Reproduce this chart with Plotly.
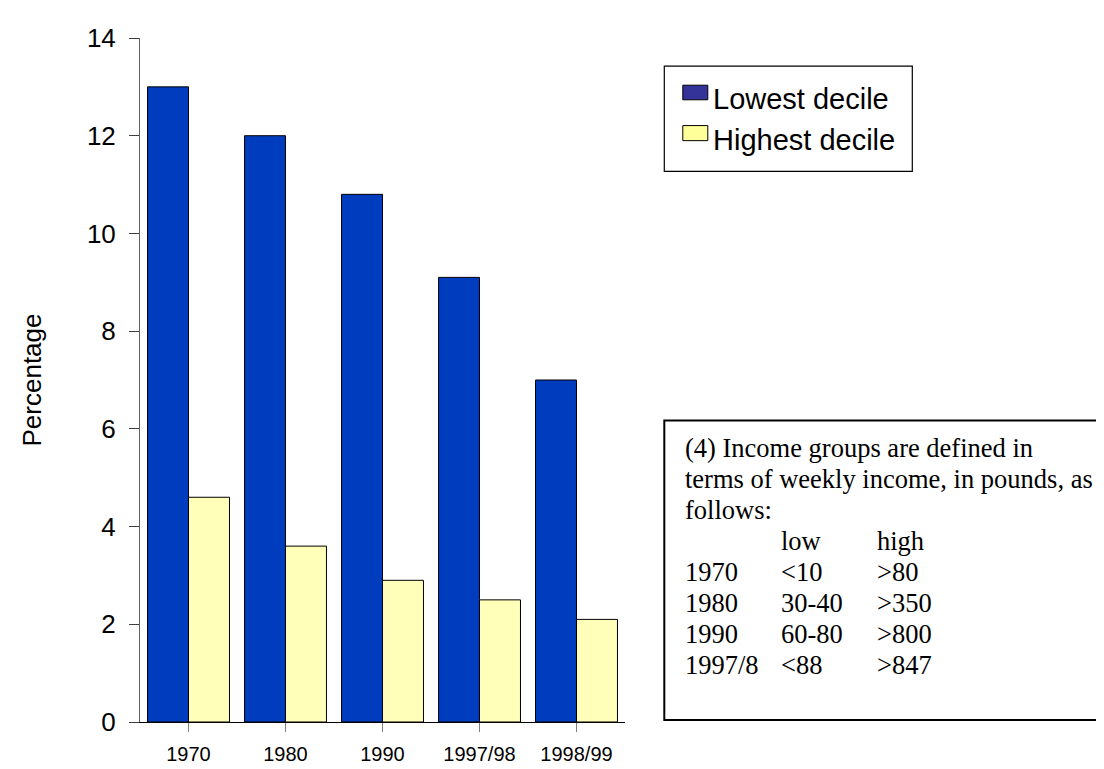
import plotly.graph_objects as go

# ---- data ----
categories = ["1970", "1980", "1990", "1997/98", "1998/99"]
series_names = ["Lowest decile", "Highest decile"]
lowest_decile = [13.0, 12.0, 10.8, 9.1, 7.0]
highest_decile = [4.6, 3.6, 2.9, 2.5, 2.1]
y_ticks = [0, 2, 4, 6, 8, 10, 12, 14]

note_lines = ["(4) Income groups are defined in",
              "terms of weekly income, in pounds, as",
              "follows:"]
table_header = ["", "low", "high"]
income_years = ["1970", "1980", "1990", "1997/8"]
income_low = ["<10", "30-40", "60-80", "<88"]
income_high = [">80", ">350", ">800", ">847"]

# ---- styles ----
BAR_COLORS = ["#003CBE", "#FFFFB9"]
SWATCH_COLORS = ["#333399", "#FFFF99"]
SANS = "Liberation Sans, Arial, sans-serif"
SERIF = "Liberation Serif, Times New Roman, serif"

W, H = 1104, 769
PX0, PX1 = 131.7, 616.7
PY0, PY1 = 30.0, 733.0


def xp(px):
    return (px - PX0) / (PX1 - PX0)


def yp(py):
    return (PY1 - py) / (PY1 - PY0)


fig = go.Figure()
for name, vals, col in zip(series_names, [lowest_decile, highest_decile], BAR_COLORS):
    fig.add_trace(go.Bar(x=categories, y=vals, name=name, marker_color=col,
                         marker_line_color="black", marker_line_width=1,
                         showlegend=False))

shapes = []
annotations = []

# manual legend (swatch colours differ from bar colours in the original)
shapes.append(dict(type="rect", xref="paper", yref="paper",
                   x0=xp(656), x1=xp(904), y0=yp(167), y1=yp(59),
                   line=dict(color="black", width=1.2), fillcolor="white", layer="above"))
leg_rows = [(78.5, 93.5, 93.0), (120.0, 135.5, 135.0)]
for (sy0, sy1, ty), name, col in zip(leg_rows, series_names, SWATCH_COLORS):
    shapes.append(dict(type="rect", xref="paper", yref="paper",
                       x0=xp(674.5), x1=xp(699.5), y0=yp(sy1), y1=yp(sy0),
                       line=dict(color="black", width=1), fillcolor=col, layer="above"))
    annotations.append(dict(xref="paper", yref="paper", x=xp(703), y=yp(ty),
                            xanchor="left", yanchor="middle", showarrow=False,
                            text=name, font=dict(family=SANS, size=29, color="black")))

# note box
shapes.append(dict(type="rect", xref="paper", yref="paper",
                   x0=xp(656), x1=xp(1110), y0=yp(731), y1=yp(423),
                   line=dict(color="black", width=2), fillcolor="rgba(0,0,0,0)", layer="above"))


def esc(s):
    return s.replace("&", "&amp;").replace("<", "&lt;").replace(">", "&gt;")


NOTE_FS = 26.5
LINE0 = 451.9
STEP = 31.8
COLX = [675, 771, 867]
rows = [[l] for l in note_lines] + [table_header] + [list(r) for r in zip(income_years, income_low, income_high)]
for i, row in enumerate(rows):
    cy = LINE0 + STEP * i
    for j, cell in enumerate(row):
        if not cell:
            continue
        annotations.append(dict(xref="paper", yref="paper", x=xp(COLX[j]), y=yp(cy),
                                xanchor="left", yanchor="middle", showarrow=False,
                                text=esc(cell), font=dict(family=SERIF, size=NOTE_FS, color="black")))

fig.update_layout(
    width=W, height=H,
    margin=dict(l=PX0, r=W - PX1, t=PY0, b=H - PY1, pad=0),
    paper_bgcolor="white", plot_bgcolor="white",
    barmode="group", bargap=0.155, bargroupgap=0,
    shapes=shapes, annotations=annotations,
    font=dict(family=SANS, color="black"),
)
fig.update_xaxes(type="category", showline=True, linecolor="black", linewidth=1,
                 ticks="outside", ticklen=9, tickcolor="#808080", tickwidth=1,
                 ticklabelstandoff=5,
                 tickfont=dict(family=SANS, size=20, color="black"),
                 showgrid=False, zeroline=False)
fig.update_yaxes(range=[0, 14], tickvals=y_ticks, showline=True, linecolor="#606060", linewidth=1,
                 ticks="outside", ticklen=10, tickcolor="#404040", tickwidth=1,
                 ticklabelstandoff=8,
                 tickfont=dict(family=SANS, size=26, color="black"),
                 showgrid=False, zeroline=False,
                 title=dict(text="Percentage", font=dict(family=SANS, size=26, color="black"), standoff=37))

fig.write_html("out.html")
